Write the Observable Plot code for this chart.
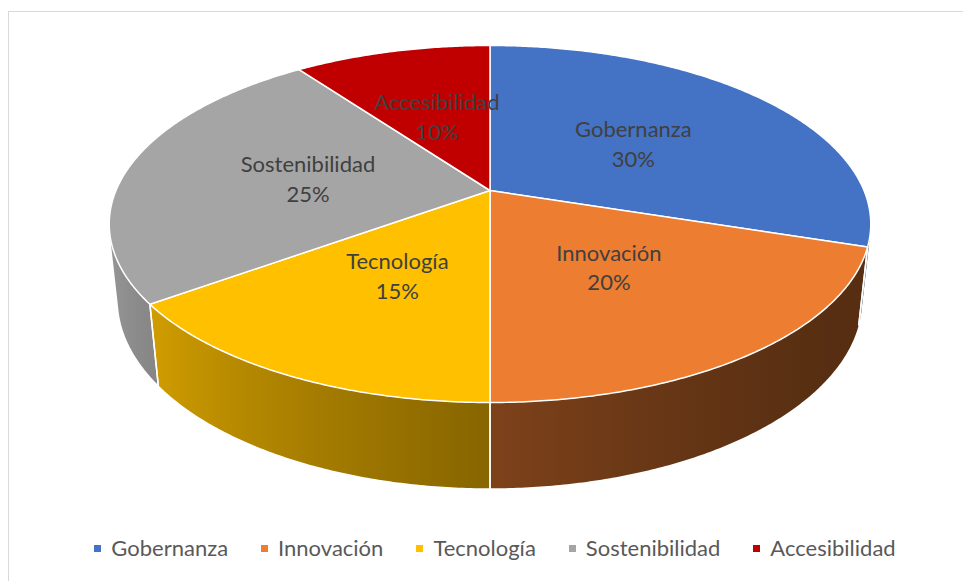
<!DOCTYPE html>
<html><head><meta charset="utf-8">
<script src="https://cdn.jsdelivr.net/npm/d3@7"></script>
<script src="https://cdn.jsdelivr.net/npm/@observablehq/plot@0.6"></script>
<style>
html,body{margin:0;padding:0;background:#fff;overflow:hidden}
#wrap{position:relative;width:963px;height:581px;overflow:hidden;background:#fff}
#frame{position:absolute;left:8px;top:11px;width:1000px;height:1000px;border:1.5px solid #d9d9d9;box-sizing:border-box}
#chart{position:absolute;left:0;top:0}
#legend{position:absolute;left:0;width:990px;top:536px;display:flex;justify-content:center;align-items:center;font-family:Lato,sans-serif;font-size:22px;line-height:24px;color:#595959}
.item{display:flex;align-items:center;margin:0 16.5px}
.sw{width:7px;height:7px;margin-right:10px}
</style></head><body>
<div id="wrap"><div id="frame"></div><div id="chart"></div><div id="legend"></div></div>
<script>
// ---- data ----
const categories = ["Gobernanza", "Innovación", "Tecnología", "Sostenibilidad", "Accesibilidad"];
const values = [30, 20, 15, 25, 10];
const colors = ["#4472C4", "#ED7D31", "#FFC000", "#A5A5A5", "#C00000"];

// ---- view (3D perspective pie) ----
const W = 963, Hsvg = 525;
const CX = 489.5, CY = 190, PX = 374;          // pixels per radius unit
const sa = 0.4605, ca = Math.sqrt(1 - sa * sa); // tilt
const K = 0.2115;                                // radius / camera distance
const THICK = 0.23;                              // thickness in radius units
const deg = Math.PI / 180;

function proj(theta, r, h) {
  const X = r * Math.sin(theta), z = -r * Math.cos(theta), y = h;
  const v = y * ca - z * sa, d = y * sa + z * ca;
  const s = 1 / (1 - K * d);
  return {u: X * s, w: v * s};
}
function shade(c, theta) {
  const f = 0.69 + 0.32 * Math.cos(theta - 300 * deg);
  const q = d3.rgb(c);
  return d3.rgb(q.r * f, q.g * f, q.b * f).formatHex();
}

const total = d3.sum(values);
let acc = 0;
const slices = categories.map((name, i) => {
  const a0 = acc / total * 2 * Math.PI;
  acc += values[i];
  const a1 = acc / total * 2 * Math.PI;
  return {name, value: values[i], color: colors[i], a0, a1};
});

// visible wall range
const tv = Math.acos(-K / ca);
const vis0 = tv, vis1 = 2 * Math.PI - tv;

const tops = [], walls = [], bounds = [], labels = [], grads = [];
slices.forEach((s, i) => {
  // top face
  const n = Math.max(2, Math.ceil((s.a1 - s.a0) / (0.5 * deg)));
  tops.push({id: "t" + i, color: s.color, ...proj(0, 0, 0)});
  for (let j = 0; j <= n; j++) {
    const t = s.a0 + (s.a1 - s.a0) * j / n;
    tops.push({id: "t" + i, color: s.color, ...proj(t, 1, 0)});
  }
  // wall (one polygon, gradient fill)
  const b0 = Math.max(s.a0, vis0), b1 = Math.min(s.a1, vis1);
  if (b1 > b0) {
    const m = Math.max(2, Math.ceil((b1 - b0) / (0.5 * deg)));
    const fill = `url(#gw${i})`, id = "w" + i;
    for (let j = 0; j <= m; j++) walls.push({id, fill, ...proj(b0 + (b1 - b0) * j / m, 1, 0)});
    for (let j = m; j >= 0; j--) walls.push({id, fill, ...proj(b0 + (b1 - b0) * j / m, 1, -THICK)});
    const stops = [];
    for (let j = 0; j <= 24; j++) {
      const t = b0 + (b1 - b0) * j / 24;
      stops.push({u: proj(t, 1, 0).u, color: shade(s.color, t)});
    }
    grads.push({id: `gw${i}`, stops});
    [s.a0, s.a1].forEach((t, k) => {
      if (t > vis0 && t < vis1) {
        bounds.push({id: "b" + i + k, ...proj(t, 1, 0)});
        bounds.push({id: "b" + i + k, ...proj(t, 1, -THICK)});
      }
    });
  }
  // label
  const mid = (s.a0 + s.a1) / 2;
  labels.push({text: `${s.name}\n${s.value}%`, ...proj(mid, 0.5, 0)});
});

const chart = Plot.plot({
  width: W, height: Hsvg,
  margin: 0,
  x: {domain: [(0 - CX) / PX, (W - CX) / PX], axis: null},
  y: {domain: [(CY - Hsvg) / PX, CY / PX], axis: null},
  color: {type: "identity"},
  style: {background: "transparent", overflow: "visible"},
  marks: [
    Plot.line(walls, {x: "u", y: "w", z: "id", fill: "fill", stroke: "none", curve: "linear-closed"}),
    Plot.line(bounds, {x: "u", y: "w", z: "id", stroke: "#fff", strokeWidth: 1.5}),
    Plot.line(tops, {x: "u", y: "w", z: "id", fill: "color", stroke: "#fff", strokeWidth: 1.5, strokeLinejoin: "round", curve: "linear-closed"}),
    Plot.text(labels, {x: "u", y: "w", text: "text", lineHeight: 1.36, fontSize: 22, fontFamily: "Lato", fill: "#404040"})
  ]
});

// gradient definitions for the side walls (positions through the x scale)
const xs = chart.scale("x");
const ns = "http://www.w3.org/2000/svg";
const defs = document.createElementNS(ns, "defs");
grads.forEach(g => {
  const lg = document.createElementNS(ns, "linearGradient");
  lg.setAttribute("id", g.id);
  lg.setAttribute("gradientUnits", "userSpaceOnUse");
  const x1 = xs.apply(g.stops[0].u), x2 = xs.apply(g.stops[g.stops.length - 1].u);
  lg.setAttribute("x1", x1); lg.setAttribute("x2", x2);
  lg.setAttribute("y1", 0); lg.setAttribute("y2", 0);
  g.stops.forEach(st => {
    const e = document.createElementNS(ns, "stop");
    const off = x2 === x1 ? 0 : (xs.apply(st.u) - x1) / (x2 - x1);
    e.setAttribute("offset", Math.max(0, Math.min(1, off)));
    e.setAttribute("stop-color", st.color);
    lg.appendChild(e);
  });
  defs.appendChild(lg);
});
chart.insertBefore(defs, chart.firstChild);
document.getElementById("chart").appendChild(chart);

// legend
const lgd = document.getElementById("legend");
categories.forEach((c, i) => {
  const it = document.createElement("div"); it.className = "item";
  const sw = document.createElement("span"); sw.className = "sw"; sw.style.background = colors[i];
  const tx = document.createElement("span"); tx.textContent = c;
  it.appendChild(sw); it.appendChild(tx); lgd.appendChild(it);
});
</script></body></html>
